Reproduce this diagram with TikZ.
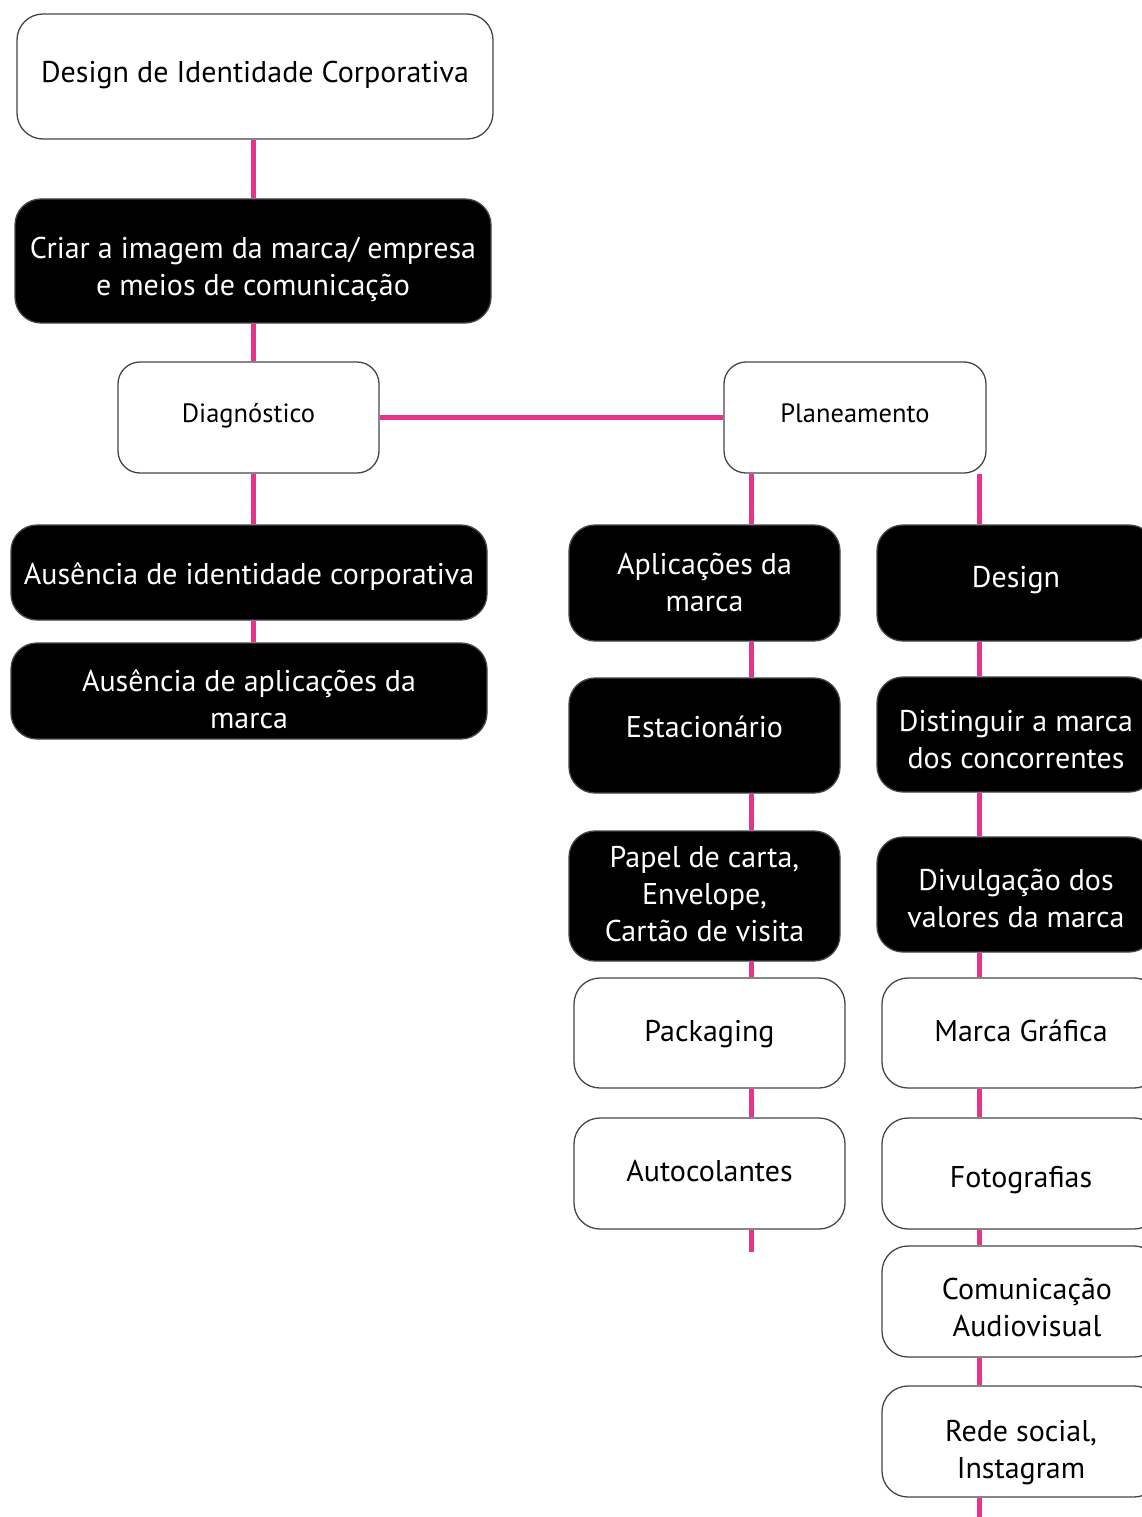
\documentclass[tikz,border=0pt]{standalone}
\usepackage{fontspec}
\setmainfont{PT Sans}
\definecolor{linkpink}{RGB}{229,52,140}
\definecolor{edgegray}{RGB}{70,70,70}
\newcommand{\tx}[2]{\raisebox{#1}[\height][\depth]{\begin{tabular}{@{}c@{}}#2\end{tabular}}}
\begin{document}
\begin{tikzpicture}[x=1pt,y=-1pt,
  box/.style={draw=edgegray,line width=1.3pt,rounded corners=26pt,align=center,inner sep=0pt},
  wbox/.style={box,fill=white,text=black},
  bbox/.style={box,fill=black,text=white},
  big/.style={font=\fontsize{30}{37}\selectfont},
  small/.style={font=\fontsize{26.5}{33}\selectfont},
  link/.style={draw=linkpink,line width=5pt}]
\clip (0,0) rectangle (1142,1517);
\fill[white] (0,0) rectangle (1142,1517);
% nodes
\node[wbox,big,minimum width=476pt,minimum height=125pt] (top) at (255,76.5) {\tx{1pt}{Design de Identidade Corporativa}};
\node[bbox,big,minimum width=476pt,minimum height=124pt] (criar) at (253,261) {\tx{-9pt}{Criar a imagem da marca/ empresa\\e meios de comunicação}};
\node[wbox,small,minimum width=261pt,minimum height=111pt,rounded corners=22pt] (diag) at (248.5,417.5) {\tx{2pt}{Diagnóstico}};
\node[wbox,small,minimum width=262pt,minimum height=111pt,rounded corners=22pt] (plan) at (855,417.5) {\tx{2pt}{Planeamento}};
\node[bbox,big,minimum width=476pt,minimum height=95pt] (aus1) at (249,572.5) {\tx{-5pt}{Ausência de identidade corporativa}};
\node[bbox,big,minimum width=476pt,minimum height=96pt] (aus2) at (249,691) {\tx{-12pt}{Ausência de aplicações da\\marca}};
% left column
\node[bbox,big,minimum width=271pt,minimum height=116pt] (apl) at (704.5,583) {\tx{-3pt}{Aplicações da\\marca}};
\node[bbox,big,minimum width=271pt,minimum height=115pt] (est) at (704.5,735.5) {\tx{5pt}{Estacionário}};
\node[bbox,big,minimum width=271pt,minimum height=130pt] (papel) at (704.5,896) {\tx{-1pt}{Papel de carta,\\Envelope,\\Cartão de visita}};
\node[wbox,big,minimum width=271pt,minimum height=110pt] (pack) at (709.5,1033) {\tx{-1pt}{Packaging}};
\node[wbox,big,minimum width=271pt,minimum height=111pt] (auto) at (709.5,1173.5) {\tx{-1pt}{Autocolantes}};
% right column
\node[bbox,big,minimum width=278pt,minimum height=116pt] (design) at (1016,583) {\tx{3pt}{Design}};
\node[bbox,big,minimum width=278pt,minimum height=115pt] (dist) at (1016,734.5) {\tx{-8pt}{Distinguir a marca\\dos concorrentes}};
\node[bbox,big,minimum width=278pt,minimum height=115pt] (divul) at (1016,894.5) {\tx{-7pt}{Divulgação dos\\valores da marca}};
\node[wbox,big,minimum width=278pt,minimum height=110pt] (marca) at (1021,1033) {\tx{-1pt}{Marca Gráfica}};
\node[wbox,big,minimum width=278pt,minimum height=111pt] (foto) at (1021,1173.5) {\tx{-7pt}{Fotografias}};
\node[wbox,big,minimum width=278pt,minimum height=111pt] (comun) at (1021,1301.5) {\hspace*{12pt}\tx{-9pt}{Comunicação\\Audiovisual}};
\node[wbox,big,minimum width=278pt,minimum height=111pt] (rede) at (1021,1441.5) {\tx{-11pt}{Rede social,\\Instagram}};
\coordinate (lend) at (751,1252);
\coordinate (rend) at (979,1530);
% connectors
\draw[link] (criar.north |- top.south) -- (criar.north);
\draw[link] ([xshift=4.5pt]diag.north |- criar.south) -- ([xshift=4.5pt]diag.north);
\draw[link] ([xshift=4.5pt]diag.south) -- ([xshift=4.5pt]diag.south |- aus1.north);
\draw[link] ([xshift=4pt]aus1.south) -- ([xshift=4pt]aus2.north);
\draw[link] (diag.east) -- (plan.west);
\draw[link] ([xshift=46.5pt]apl.north |- plan.south) -- ([xshift=46.5pt]apl.north);
\draw[link] ([xshift=46.5pt]apl.south) -- ([xshift=46.5pt]est.north);
\draw[link] ([xshift=46.5pt]est.south) -- ([xshift=46.5pt]papel.north);
\draw[link] ([xshift=46.5pt]papel.south) -- ([xshift=41.5pt]pack.north);
\draw[link] ([xshift=41.5pt]pack.south) -- ([xshift=41.5pt]auto.north);
\draw[link] ([xshift=41.5pt]auto.south) -- (lend);
\draw[link] ([xshift=-37pt]design.north |- plan.south) -- ([xshift=-37pt]design.north);
\draw[link] ([xshift=-37pt]design.south) -- ([xshift=-37pt]dist.north);
\draw[link] ([xshift=-37pt]dist.south) -- ([xshift=-37pt]divul.north);
\draw[link] ([xshift=-37pt]divul.south) -- ([xshift=-42pt]marca.north);
\draw[link] ([xshift=-42pt]marca.south) -- ([xshift=-42pt]foto.north);
\draw[link] ([xshift=-42pt]foto.south) -- ([xshift=-42pt]comun.north);
\draw[link] ([xshift=-42pt]comun.south) -- ([xshift=-42pt]rede.north);
\draw[link] ([xshift=-42pt]rede.south) -- (rend);
\end{tikzpicture}
\end{document}
